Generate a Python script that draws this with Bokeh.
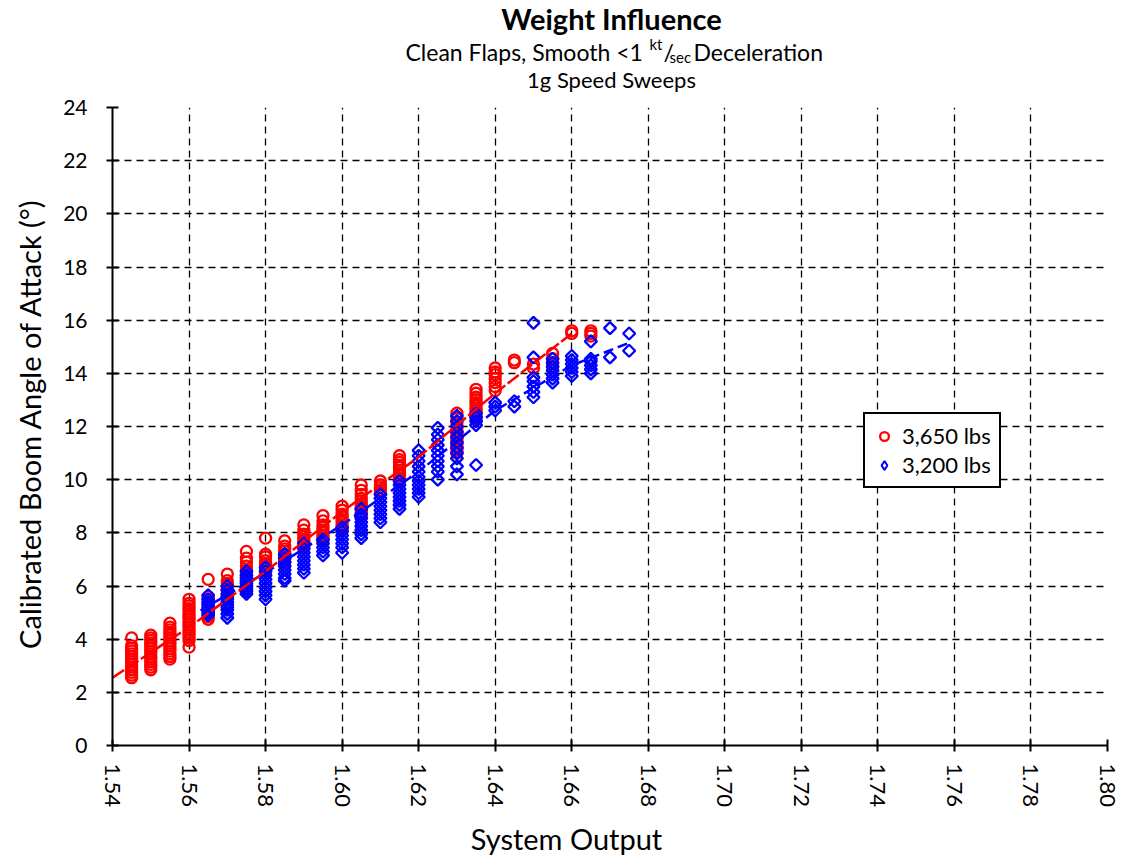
import math
from bokeh.plotting import figure
from bokeh.layouts import column, row
from bokeh.models import (Range1d, FixedTicker, NumeralTickFormatter,
                          Legend, LegendItem, ColumnDataSource)
from bokeh.core.properties import value
from bokeh.embed import file_html
from bokeh.resources import INLINE

FONT = "Lato"

# ---------------- data ----------------
red_cols = [1.545, 1.550, 1.555, 1.560, 1.565, 1.570, 1.575, 1.580, 1.585,
            1.590, 1.595, 1.600, 1.605, 1.610, 1.615, 1.630, 1.635, 1.640,
            1.645, 1.650, 1.655, 1.660, 1.665]
red_vals = [
    [2.55, 2.65, 2.75, 2.85, 2.95, 3.05, 3.15, 3.25, 3.35, 3.45, 3.55, 3.65, 3.75, 4.05],
    [2.85, 2.95, 3.05, 3.15, 3.25, 3.35, 3.45, 3.55, 3.65, 3.75, 3.85, 3.95, 4.05, 4.15],
    [3.25, 3.35, 3.45, 3.55, 3.65, 3.75, 3.85, 3.95, 4.05, 4.15, 4.25, 4.35, 4.45, 4.6],
    [3.7, 3.95, 4.05, 4.15, 4.25, 4.35, 4.45, 4.55, 4.65, 4.75, 4.85, 4.95, 5.05, 5.15, 5.25, 5.35, 5.5],
    [4.75, 4.85, 4.95, 5.05, 5.15, 5.25, 5.35, 5.5, 5.6, 6.25],
    [5.6, 5.7, 5.8, 5.9, 6.0, 6.1, 6.2, 6.45],
    [5.9, 6.0, 6.1, 6.2, 6.3, 6.45, 6.6, 6.75, 6.9, 7.05, 7.3],
    [6.55, 6.65, 6.75, 6.85, 6.95, 7.1, 7.2, 7.8],
    [6.9, 7.0, 7.1, 7.2, 7.3, 7.4, 7.5, 7.7],
    [7.45, 7.55, 7.65, 7.75, 7.85, 7.95, 8.1, 8.3],
    [7.7, 7.8, 7.9, 8.0, 8.1, 8.2, 8.3, 8.45, 8.65],
    [8.1, 8.2, 8.3, 8.4, 8.5, 8.6, 8.7, 8.85, 9.0],
    [8.6, 8.7, 8.8, 8.9, 9.0, 9.1, 9.2, 9.3, 9.45, 9.6, 9.8],
    [9.5, 9.6, 9.7, 9.8, 9.95],
    [9.95, 10.05, 10.15, 10.25, 10.35, 10.45, 10.55, 10.65, 10.75, 10.9],
    [11.0, 11.1, 11.2, 11.3, 11.4, 11.5, 11.6, 11.7, 11.8, 11.95, 12.1, 12.3, 12.5],
    [12.3, 12.4, 12.5, 12.6, 12.7, 12.8, 12.9, 13.0, 13.1, 13.25, 13.4],
    [13.35, 13.5, 13.65, 13.8, 13.95, 14.05, 14.2],
    [14.4, 14.5],
    [14.2, 14.35],
    [14.25, 14.4, 14.55, 14.75],
    [15.5, 15.6],
    [15.4, 15.5, 15.6],
]

blue_cols = [1.565, 1.570, 1.575, 1.580, 1.585, 1.590, 1.595, 1.600, 1.605,
             1.610, 1.615, 1.620, 1.625, 1.630, 1.635, 1.640, 1.645, 1.650,
             1.655, 1.660, 1.665, 1.670, 1.675]
blue_vals = [
    [4.9, 5.0, 5.1, 5.2, 5.3, 5.4, 5.5, 5.65],
    [4.8, 4.95, 5.1, 5.2, 5.3, 5.4, 5.5, 5.6, 5.7, 5.85, 6.0],
    [5.7, 5.8, 5.9, 6.0, 6.1, 6.2, 6.3, 6.4, 6.55],
    [5.5, 5.65, 5.8, 5.95, 6.1, 6.25, 6.4, 6.55, 6.7],
    [6.2, 6.3, 6.45, 6.6, 6.75, 6.9, 7.05, 7.2],
    [6.5, 6.65, 6.8, 6.95, 7.1, 7.25, 7.4, 7.6],
    [7.15, 7.3, 7.45, 7.6, 7.75],
    [7.25, 7.45, 7.6, 7.75, 7.9, 8.05, 8.2],
    [7.8, 7.95, 8.1, 8.25, 8.4, 8.55, 8.7, 8.9],
    [8.4, 8.55, 8.7, 8.85, 9.0, 9.15, 9.3, 9.45],
    [8.9, 9.05, 9.2, 9.35, 9.5, 9.65, 9.8, 9.95],
    [9.35, 9.5, 9.65, 9.8, 9.95, 10.1, 10.3, 10.5, 10.7, 10.9, 11.1],
    [10.0, 10.3, 10.5, 10.7, 10.9, 11.1, 11.3, 11.5, 11.7, 11.95],
    [10.2, 10.5, 10.8, 11.0, 11.2, 11.4, 11.6, 11.8, 12.0, 12.2, 12.4],
    [10.55, 12.05, 12.2, 12.35, 12.5],
    [12.6, 12.75, 12.9],
    [12.75, 12.95],
    [13.1, 13.3, 13.5, 13.7, 13.85, 14.6, 15.9],
    [13.65, 13.8, 13.95, 14.1, 14.25, 14.4, 14.55],
    [13.9, 14.05, 14.2, 14.35, 14.5, 14.65],
    [14.0, 14.15, 14.3, 14.45, 14.55, 15.2],
    [14.6, 15.7],
    [14.85, 15.5],
]

red_trend_x = [1.540, 1.560, 1.580, 1.600, 1.620, 1.640, 1.660]
red_trend_y = [2.55, 4.45, 6.55, 8.8, 10.85, 13.25, 15.5]
blue_trend_x = [1.563, 1.580, 1.600, 1.620, 1.640, 1.660, 1.675]
blue_trend_y = [5.08, 6.5, 8.3, 10.3, 12.6, 14.3, 15.15]

x_ticks = [1.54, 1.56, 1.58, 1.60, 1.62, 1.64, 1.66, 1.68, 1.70, 1.72, 1.74, 1.76, 1.78, 1.80]
y_ticks = [0, 2, 4, 6, 8, 10, 12, 14, 16, 18, 20, 22, 24]

series_names = ["3,650 lbs", "3,200 lbs"]
title_text = "Weight Influence"
subtitle_parts = ["Clean Flaps, Smooth <1", "kt", "/", "sec", "Deceleration"]
subtitle2_text = "1g Speed Sweeps"
x_title = "System Output"
y_title = "Calibrated Boom Angle of Attack (°)"


def flatten(cols, vals):
    xs, ys = [], []
    for c, vs in zip(cols, vals):
        for v in vs:
            xs.append(c)
            ys.append(v)
    return xs, ys


rx, ry = flatten(red_cols, red_vals)
bx, by = flatten(blue_cols, blue_vals)

TOTAL_W = 1125
TITLE_H = 94
ROW_H = 721
XLAB_H = 45
YLAB_W = 52
PAGE_ROW_BOTTOM = TITLE_H + ROW_H


def blank(w, h):
    f = figure(width=w, height=h, output_backend="svg", toolbar_location=None,
               x_range=Range1d(0, w), y_range=Range1d(0, h),
               min_border=0, min_border_left=0, min_border_right=0,
               min_border_top=0, min_border_bottom=0)
    f.axis.visible = False
    f.grid.visible = False
    f.outline_line_color = None
    f.background_fill_color = "white"
    f.border_fill_color = "white"
    return f


def txt(f, x, y, text, size, bold=False, angle=0.0, align="center", baseline="middle"):
    f.text(x=[x], y=[y], text=[text], text_font=value(FONT), text_font_size=value(size),
           text_font_style="bold" if bold else "normal", text_align=align,
           text_baseline=baseline, angle=angle, text_color="black")


# ---------------- title band (y measured from the band's bottom) ----------------
tf = blank(TOTAL_W, TITLE_H)
txt(tf, 611, TITLE_H - 18, title_text, "29px", bold=True)
base1 = TITLE_H - 51
txt(tf, 405, base1, subtitle_parts[0], "23px", align="left", baseline="alphabetic")
txt(tf, 649, base1 + 8, subtitle_parts[1], "15px", align="left", baseline="alphabetic")
txt(tf, 663, base1, subtitle_parts[2], "23px", align="left", baseline="alphabetic")
txt(tf, 669, base1 - 5, subtitle_parts[3], "15px", align="left", baseline="alphabetic")
txt(tf, 693, base1, subtitle_parts[4], "23px", align="left", baseline="alphabetic")
txt(tf, 611, TITLE_H - 79, subtitle2_text, "22px")

# ---------------- y label strip ----------------
yf = blank(YLAB_W, ROW_H)
txt(yf, 29, 364 - (815 - PAGE_ROW_BOTTOM), y_title, "29px", angle=math.pi / 2)

# ---------------- x label strip ----------------
xf = blank(TOTAL_W, XLAB_H)
txt(xf, 566, XLAB_H - 23, x_title, "29px")

# ---------------- main plot ----------------
MAIN_W = TOTAL_W - YLAB_W
p = figure(width=MAIN_W, height=ROW_H, output_backend="svg", toolbar_location=None,
           x_range=Range1d(x_ticks[0], x_ticks[-1]), y_range=Range1d(y_ticks[0], y_ticks[-1]),
           min_border_left=112 - YLAB_W, min_border_right=TOTAL_W - 1107,
           min_border_top=107 - TITLE_H, min_border_bottom=PAGE_ROW_BOTTOM - 745)
p.outline_line_color = None
p.background_fill_color = "white"
p.border_fill_color = "white"

for ax, ticks in ((p.xaxis[0], x_ticks), (p.yaxis[0], y_ticks)):
    ax.ticker = FixedTicker(ticks=ticks, minor_ticks=[])
    ax.axis_line_color = "black"
    ax.axis_line_width = 2
    ax.major_tick_line_color = "black"
    ax.major_tick_line_width = 2
    ax.major_tick_in = 6
    ax.major_tick_out = 6
    ax.minor_tick_line_color = None
    ax.major_label_text_font = FONT
    ax.major_label_text_color = "black"

p.xaxis[0].major_label_text_font_size = "22px"
p.yaxis[0].major_label_text_font_size = "21px"
p.xaxis[0].formatter = NumeralTickFormatter(format="0.00")
p.xaxis[0].major_label_orientation = -math.pi / 2
p.xaxis[0].major_label_standoff = 12
p.yaxis[0].formatter = NumeralTickFormatter(format="0")
p.yaxis[0].major_label_standoff = 19

for g in (p.xgrid[0], p.ygrid[0]):
    g.grid_line_color = "black"
    g.grid_line_dash = "7 5"
    g.grid_line_width = 1.3
p.xgrid[0].ticker = FixedTicker(ticks=x_ticks)
p.ygrid[0].ticker = FixedTicker(ticks=y_ticks)

red_src = ColumnDataSource(dict(x=rx, y=ry))
blue_src = ColumnDataSource(dict(x=bx, y=by))

r_red = p.scatter("x", "y", source=red_src, marker="circle", size=11,
                  fill_color=None, line_color="#ff0000", line_width=2.3)
r_blue = p.scatter("x", "y", source=blue_src, marker="square", angle=math.pi / 4, size=8.5,
                   fill_color=None, line_color="#0000ff", line_width=2.3)
# same blue data, drawn only as the legend's diamond swatch
leg_blue = p.scatter("x", "y", source=blue_src, marker="diamond", size=12,
                     fill_color=None, line_color="#0000ff", line_width=2, visible=False)

p.line(blue_trend_x, blue_trend_y, line_color="#0000ff", line_width=2.5, line_dash="10 5")
p.line(red_trend_x, red_trend_y, line_color="#ff0000", line_width=2.5, line_dash="14 3")

legend = Legend(items=[LegendItem(label=series_names[0], renderers=[r_red]),
                       LegendItem(label=series_names[1], renderers=[leg_blue])],
                location=(751, 257), orientation="vertical",
                border_line_color="black", border_line_width=2, border_line_alpha=1,
                background_fill_color="white", background_fill_alpha=1,
                label_text_font=FONT, label_text_font_size="22px", label_text_color="black",
                glyph_width=22, glyph_height=22, label_standoff=7,
                padding=8, spacing=2, margin=0)
p.add_layout(legend, "center")

layout = column(tf, row(yf, p, spacing=0), xf, spacing=0)

open("out.html", "w").write(file_html(layout, INLINE))
